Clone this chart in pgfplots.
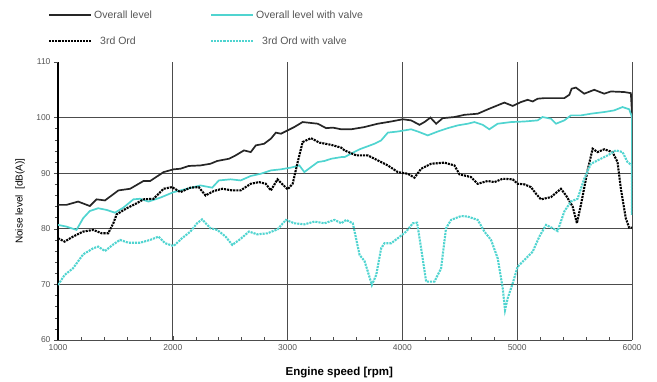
\documentclass[border=0pt]{standalone}
\usepackage{pgfplots}
\pgfplotsset{compat=1.18}
\usepackage{fontspec}
\setmainfont{Liberation Sans}
\definecolor{cy}{RGB}{80,212,208}
\definecolor{txt}{RGB}{85,85,85}
\begin{document}
\begin{tikzpicture}
\begin{axis}[
  scale only axis, width=574pt, height=278pt,
  xmin=1000, xmax=6000, ymin=60, ymax=110,
  axis lines*=left,
  x axis line style={black!70, line width=0.6pt},
  y axis line style={black, line width=2pt},
  xtick={1000,2000,...,6000},
  ytick={60,70,...,100},
  extra y ticks={110}, extra y tick style={grid=none},
  minor x tick num=4, minor y tick num=4,
  xtick align=inside, ytick align=outside,
  major tick length=4pt, minor tick length=3pt,
  tick style={black!70, line width=0.5pt},
  grid=major, major grid style={black!70, line width=0.7pt},
  /pgf/number format/assume math mode=true,
  /pgf/number format/1000 sep={},
  tick label style={font=\fontsize{8.5}{10}\selectfont, text=txt},
  xticklabel style={yshift=-1pt},
  xlabel={Engine speed [rpm]}, ylabel={Noise level \ [dB(A)]},
  xlabel style={font=\fontsize{11.5}{13}\selectfont\bfseries, at={(axis description cs:0.49,-0.118)}, anchor=center},
  ylabel style={font=\fontsize{10}{12}\selectfont, at={(axis description cs:-0.066,0.5)}, anchor=center},
  legend style={at={(axis description cs:-0.023,1.20)}, anchor=north west, draw=none, fill=none,
    font=\fontsize{10.5}{12}\selectfont, text=txt, legend columns=2, row sep=13pt,
    /tikz/every even column/.append style={column sep=56pt}, cells={anchor=west}},
  legend image code/.code={\draw[#1, line width=2.2pt] (0pt,0pt) -- (42pt,0pt);},
]
\coordinate (bl) at (rel axis cs:0,0);
\coordinate (tr) at (rel axis cs:1,1);
% Overall level
\addplot[black!85, line width=1.7pt] coordinates {
(1000,84.3)(1073,84.3)(1175,84.9)(1277,84.1)(1336,85.3)(1409,85.1)(1526,86.9)(1628,87.2)
(1745,88.6)(1803,88.6)(1920,90.2)(2007,90.7)(2066,90.8)(2139,91.3)(2241,91.4)(2328,91.7)
(2387,92.2)(2489,92.6)(2547,93.2)(2620,94.1)(2679,93.8)(2723,95.0)(2796,95.3)(2854,96.2)
(2898,97.3)(2942,97.1)(3000,97.7)(3058,98.3)(3131,99.2)(3175,99.1)(3263,98.9)(3336,98.1)
(3394,98.2)(3467,97.9)(3554,97.9)(3670,98.3)(3786,98.9)(3902,99.3)(4003,99.7)(4076,99.5)
(4149,98.7)(4192,99.2)(4244,100.0)(4294,98.9)(4351,99.9)(4453,100.1)(4540,100.5)(4656,100.7)
(4757,101.6)(4888,102.7)(4961,102.1)(5033,102.8)(5091,103.2)(5135,102.9)(5178,103.4)(5236,103.5)
(5352,103.5)(5410,103.5)(5454,104.1)(5474,105.2)(5511,105.4)(5584,104.3)(5671,105.0)(5758,104.3)
(5816,104.7)(5932,104.6)(5990,104.4)(6000,100.7)};
\addlegendentry{Overall level}
% Overall level with valve
\addplot[cy, line width=1.7pt] coordinates {
(1000,80.7)(1073,80.4)(1161,79.8)(1219,81.9)(1277,83.2)(1350,83.7)(1423,83.4)(1496,82.9)
(1569,83.8)(1657,85.3)(1715,85.4)(1788,84.9)(1891,85.6)(2007,86.6)(2124,87.2)(2241,87.8)
(2343,87.4)(2401,88.7)(2504,88.9)(2591,88.7)(2679,89.5)(2766,89.9)(2854,90.5)(2942,90.7)
(3029,91.0)(3102,91.4)(3146,90.2)(3204,91.1)(3263,92.0)(3321,92.2)(3380,92.6)(3467,92.9)
(3496,92.9)(3627,94.3)(3757,95.3)(3815,95.9)(3873,97.3)(3960,97.5)(4076,97.9)(4134,97.5)
(4221,96.8)(4308,97.5)(4395,98.1)(4482,98.6)(4569,98.9)(4627,99.2)(4700,98.7)(4757,97.9)
(4830,98.9)(4946,99.2)(5062,99.3)(5178,99.5)(5221,100.1)(5294,99.8)(5338,98.9)(5410,99.5)
(5468,100.4)(5555,100.4)(5642,100.7)(5758,101.0)(5845,101.3)(5917,101.9)(5975,101.5)
(6000,100.1)(6000,82.5)};
\addlegendentry{Overall level with valve}
% 3rd Ord
\addplot[black, line width=2.1pt, densely dotted] coordinates {
(1000,78.3)(1058,77.7)(1131,78.6)(1219,79.5)(1307,79.8)(1380,79.2)(1438,79.2)(1482,81.0)
(1511,82.6)(1599,83.7)(1686,84.6)(1745,85.3)(1832,85.4)(1920,87.2)(1993,87.5)(2066,86.6)
(2153,87.4)(2226,87.5)(2285,86.0)(2358,86.8)(2431,87.2)(2518,86.9)(2591,86.9)(2679,88.1)
(2752,88.4)(2810,88.1)(2854,86.9)(2912,88.9)(3000,87.1)(3044,88.1)(3088,92.0)(3131,95.6)
(3204,96.3)(3277,95.5)(3380,95.1)(3467,94.6)(3496,94.1)(3598,93.2)(3699,93.2)(3786,92.3)
(3873,91.4)(3960,90.2)(4047,89.9)(4105,89.2)(4163,90.8)(4250,91.7)(4366,91.9)(4453,91.4)
(4497,89.8)(4598,89.3)(4656,88.1)(4743,88.6)(4801,88.4)(4874,89.0)(4961,88.9)(5004,88.1)
(5062,88.0)(5120,87.5)(5164,86.3)(5207,85.3)(5294,85.7)(5381,87.2)(5425,86.0)(5483,84.0)
(5520,81.0)(5555,84.3)(5613,90.5)(5657,94.4)(5700,93.8)(5758,94.3)(5830,93.8)(5874,92.0)
(5903,87.2)(5946,81.9)(5975,80.2)(6000,80.2)};
\addlegendentry{\hspace{6pt}3rd Ord}
% 3rd Ord with valve
\addplot[cy, line width=2.1pt, densely dotted] coordinates {
(1000,69.9)(1058,71.7)(1131,72.9)(1219,75.4)(1307,76.5)(1350,76.8)(1409,76.0)(1482,77.2)
(1540,78.0)(1613,77.5)(1715,77.5)(1803,78.0)(1876,78.6)(1934,77.4)(2007,76.9)(2080,78.3)
(2153,79.5)(2212,81.0)(2255,81.7)(2328,80.1)(2387,79.8)(2460,78.6)(2518,77.1)(2591,78.2)
(2664,79.5)(2737,79.0)(2825,79.2)(2912,79.9)(2985,81.6)(3058,81.0)(3146,80.8)(3234,81.3)
(3321,81.0)(3409,81.6)(3467,81.0)(3510,81.6)(3568,81.0)(3627,75.3)(3670,74.2)(3699,72.3)
(3734,69.9)(3772,71.7)(3815,76.5)(3844,77.4)(3902,77.4)(3960,78.3)(4033,79.5)(4091,81.0)
(4128,81.1)(4163,76.5)(4207,70.5)(4279,70.5)(4337,72.9)(4380,80.1)(4424,81.6)(4511,82.3)
(4569,82.2)(4656,81.6)(4714,79.5)(4772,78.0)(4830,74.7)(4874,69.3)(4894,65.4)(4917,67.5)
(4961,70.2)(5004,73.2)(5062,74.4)(5135,75.9)(5193,78.6)(5251,80.7)(5309,80.1)(5352,79.6)
(5410,83.1)(5468,84.9)(5526,85.4)(5584,89.0)(5642,91.7)(5700,92.3)(5787,93.2)(5859,94.1)
(5917,93.8)(5961,92.0)(6000,91.4)(6000,82.5)};
\addlegendentry{\hspace{6pt}3rd Ord with valve}
\end{axis}
\pgfresetboundingbox
\path ([shift={(-58pt,-41pt)}]bl) rectangle ([shift={(25pt,62pt)}]tr);
\end{tikzpicture}
\end{document}
